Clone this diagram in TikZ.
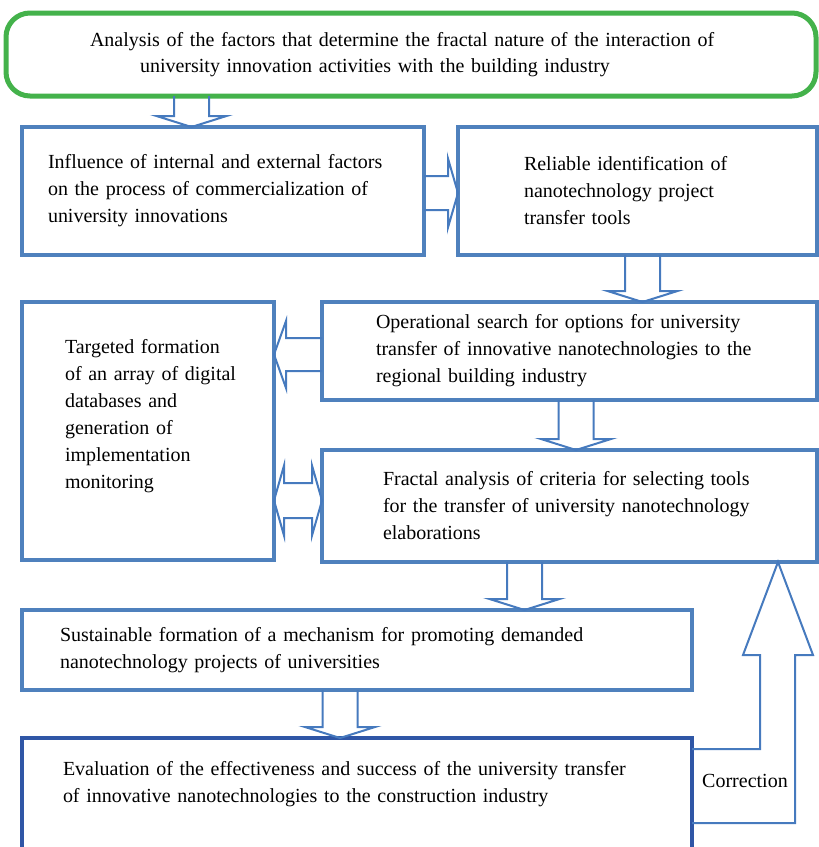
\documentclass[tikz,border=0pt]{standalone}
\usepackage{fontspec}
\setmainfont{Liberation Serif}
\usepackage{xcolor}
\usetikzlibrary{calc}

\definecolor{boxblue}{RGB}{79,129,189}
\definecolor{evablue}{RGB}{47,86,166}
\definecolor{arrblue}{RGB}{70,122,190}
\definecolor{topgreen}{RGB}{68,178,75}

% hollow block arrows between boxes
\newcommand{\dnarrow}[3]{% upper node, lower node, x of the shaft
  \draw[blk] (#3-17.5,0 |- #1.south) -- ($(#3-17.5,0 |- #2.north)+(0,-11)$)
    -- ($(#3-35,0 |- #2.north)+(0,-11)$) -- (#3,0 |- #2.north)
    -- ($(#3+35,0 |- #2.north)+(0,-11)$) -- ($(#3+17.5,0 |- #2.north)+(0,-11)$)
    -- (#3+17.5,0 |- #1.south);}
\newcommand{\rtarrow}[3]{% left node, right node, y of the shaft
  \draw[blk] (#1.east |- 0,#3-17) -- ($(#2.west |- 0,#3-17)+(-10,0)$)
    -- ($(#2.west |- 0,#3-34.5)+(-10,0)$) -- (#2.west |- 0,#3)
    -- ($(#2.west |- 0,#3+34.5)+(-10,0)$) -- ($(#2.west |- 0,#3+17)+(-10,0)$)
    -- (#1.east |- 0,#3+17);}
\newcommand{\ltarrow}[3]{% right node, left node, y of the shaft
  \draw[blk] (#1.west |- 0,#3-16.5) -- ($(#2.east |- 0,#3-16.5)+(12,0)$)
    -- ($(#2.east |- 0,#3-33.5)+(12,0)$) -- (#2.east |- 0,#3)
    -- ($(#2.east |- 0,#3+33.5)+(12,0)$) -- ($(#2.east |- 0,#3+16.5)+(12,0)$)
    -- (#1.west |- 0,#3+16.5);}
\newcommand{\lrarrow}[3]{% left node, right node, y of the shaft
  \draw[blk] (#1.east |- 0,#3) -- ($(#1.east |- 0,#3-35)+(10,0)$)
    -- ($(#1.east |- 0,#3-17.5)+(10,0)$) -- ($(#2.west |- 0,#3-17.5)+(-10,0)$)
    -- ($(#2.west |- 0,#3-35)+(-10,0)$) -- (#2.west |- 0,#3)
    -- ($(#2.west |- 0,#3+35)+(-10,0)$) -- ($(#2.west |- 0,#3+17.5)+(-10,0)$)
    -- ($(#1.east |- 0,#3+17.5)+(10,0)$) -- ($(#1.east |- 0,#3+35)+(10,0)$) -- cycle;}

\begin{document}
\begin{tikzpicture}[x=1pt, y=-1pt,
    box/.style={draw=boxblue, line width=3.5pt, rectangle, anchor=north west,
      inner sep=0pt, outer sep=0pt, align=left, font=\fontsize{20}{27}\selectfont,
      execute at begin node={\rightskip=0pt plus 1fil minus 40pt\hyphenpenalty=10000}},
    topbox/.style={box, draw=topgreen, line width=5pt, rounded corners=24pt,
      font=\fontsize{20}{26}\selectfont},
    blk/.style={draw=arrblue, line width=2pt, line join=miter}]
    \useasboundingbox (0,0) rectangle (819,847);
    \clip (0,0) rectangle (819,847);

    % Top node
    \node[topbox, minimum width=810, minimum height=83, text width=642] (an) at (6,13)
      {Analysis of the factors that determine the fractal nature of the interaction of\\
       \hspace*{50pt}university innovation activities with the building industry};

    % Boxes
    \node[box, minimum width=402, minimum height=128, text width=350] (inf) at (22,127)
      {Influence of internal and external factors\\ on the process of commercialization of\\ university innovations};
    \node[box, minimum width=359, minimum height=128, text width=227] (rel) at (458,127)
      {Reliable identification of\\ nanotechnology project\\ transfer tools};
    \node[box, minimum width=495, minimum height=98, text width=387] (ops) at (322,302)
      {Operational search for options for university\\ transfer of innovative nanotechnologies to the\\ regional building industry};
    \node[box, minimum width=252, minimum height=258, text width=166, text depth=170pt] (tgt) at (22,302)
      {Targeted formation\\ of an array of digital\\ databases and\\ generation of\\ implementation\\ monitoring};
    \node[box, minimum width=495, minimum height=112, text width=373] (fra) at (322,450)
      {Fractal analysis of criteria for selecting tools\\ for the transfer of university nanotechnology\\ elaborations};
    \node[box, minimum width=670, minimum height=80, text width=594] (sus) at (22,610)
      {Sustainable formation of a mechanism for promoting demanded\\ nanotechnology projects of universities};
    \node[box, draw=evablue, line width=4pt, minimum width=670, minimum height=120, text width=588, text depth=60pt] (eva) at (22,738)
      {Evaluation of the effectiveness and success of the university transfer\\ of innovative nanotechnologies to the construction industry};

    % Block arrows
    \dnarrow{an}{inf}{191.5}
    \rtarrow{inf}{rel}{193}
    \dnarrow{rel}{ops}{642.5}
    \ltarrow{ops}{tgt}{354.5}
    \dnarrow{ops}{fra}{576}
    \lrarrow{tgt}{fra}{500.5}
    \dnarrow{fra}{sus}{524.5}
    \dnarrow{sus}{eva}{340}

    % Feedback
    \draw[blk] (eva.east |- 0,749) -- (760,749) -- (760,655) -- (743,655)
      -- (778,0 |- fra.south) -- (813,655) -- (795,655) -- (795,823) -- (eva.east |- 0,823);
    \node[font=\fontsize{20}{27}\selectfont] (cor) at (745,781) {Correction};
\end{tikzpicture}
\end{document}
